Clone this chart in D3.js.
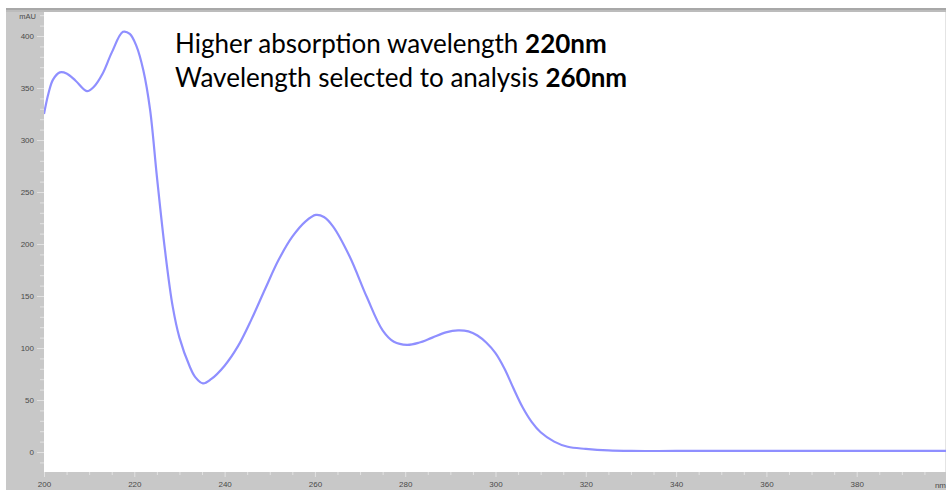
<!DOCTYPE html>
<html>
<head>
<meta charset="utf-8">
<script src="https://cdn.jsdelivr.net/npm/d3@7"></script>
<style>
  html, body { margin: 0; padding: 0; background: #fff; }
  svg { display: block; }
</style>
</head>
<body>
<svg id="chart" width="946" height="490"></svg>
<script>
// UV absorption spectrum (wavelength in nm, absorbance in mAU)
const wavelengths = [200, 201, 202, 203.5, 205, 207, 209.5, 211, 213, 215, 217.5, 219, 220.5, 222, 223.5, 225, 226.8, 228.5, 230, 232.3, 233.5, 235.2, 237, 240, 243, 246, 249, 252, 255, 258, 260.2, 262, 264, 267.7, 271.5, 275, 277.5, 280.4, 283, 286, 289, 291.7, 294, 296, 298, 300, 302, 304, 306, 308, 310, 313, 316, 320, 325, 330, 340, 360, 380, 400];
const absorbance  = [325, 345, 358, 365, 364, 357, 347, 351, 364, 384, 404, 402, 390, 367, 329, 265, 194, 140, 110, 82, 72, 66, 70, 83, 102, 128, 157, 185, 207, 222, 228, 226, 217, 188, 149, 117, 106, 103, 105, 110, 115, 117, 116, 112, 105, 95, 80, 61, 43, 29, 19, 10, 5, 3, 1.5, 1, 1, 1, 1, 1];

const yTicks = [0, 50, 100, 150, 200, 250, 300, 350, 400];
const xTicks = [200, 220, 240, 260, 280, 300, 320, 340, 360, 380];
const yUnit = "mAU";
const xUnit = "nm";
const notes = [
  { text: "Higher absorption wavelength ", bold: "220nm" },
  { text: "Wavelength selected to analysis ", bold: "260nm" }
];

const W = 946, H = 490;
const plot = { left: 44, top: 12, right: 946, bottom: 472 };

const svg = d3.select("#chart");

const x = d3.scaleLinear().domain([200, 400]).range([44, 947]);
const y = d3.scaleLinear().domain([0, 400]).range([452, 36]);

// frame: grey panels around the white plotting area
const grey = "#c8c8c8";
svg.append("rect").attr("x", 6).attr("y", 8).attr("width", W - 6).attr("height", H - 8).attr("fill", grey);
svg.append("rect").attr("x", 6).attr("y", 8).attr("width", W - 6).attr("height", 2).attr("fill", "#a8a8a8");
svg.append("rect").attr("x", 6).attr("y", 10).attr("width", W - 6).attr("height", 2).attr("fill", "#bcbcbc");
svg.append("rect")
  .attr("x", plot.left).attr("y", plot.top)
  .attr("width", plot.right - plot.left).attr("height", plot.bottom - plot.top)
  .attr("fill", "#fff");
svg.append("line").attr("x1", 945.5).attr("x2", 945.5).attr("y1", 12).attr("y2", 472)
  .attr("stroke", "#e4e4e4");

const labelFont = "Arial, 'Liberation Sans', sans-serif";
const labelColor = "#4a4a4a";

// left axis: minor ticks every 10, labels every 50
const yMinor = d3.range(-10, 421, 10);
svg.append("g").selectAll("line").data(yMinor).join("line")
  .attr("x1", d => yTicks.includes(d) ? 37 : 40).attr("x2", plot.left)
  .attr("y1", d => y(d) + 0.5).attr("y2", d => y(d) + 0.5)
  .attr("stroke", "#e2e2e2").attr("stroke-width", 1);

const yAxis = d3.axisLeft(y).tickValues(yTicks).tickSize(0).tickPadding(10);
const gy = svg.append("g").attr("transform", `translate(${plot.left},0)`).call(yAxis);
gy.select(".domain").remove();
gy.selectAll("text").attr("font-family", labelFont)
  .attr("font-size", 8).attr("fill", labelColor);

svg.append("text").attr("x", 36).attr("y", 19).attr("text-anchor", "end")
  .attr("font-family", labelFont).attr("font-size", 7.5)
  .attr("fill", labelColor).text(yUnit);

// bottom axis: minor ticks every 5 nm, labels every 20 nm
const xMinor = d3.range(200, 401, 5);
svg.append("g").selectAll("line").data(xMinor).join("line")
  .attr("x1", d => x(d) + 0.5).attr("x2", d => x(d) + 0.5)
  .attr("y1", plot.bottom).attr("y2", d => d % 20 === 0 ? plot.bottom + 5 : plot.bottom + 3)
  .attr("stroke", "#e2e2e2").attr("stroke-width", 1);

const xAxis = d3.axisBottom(x).tickValues(xTicks).tickSize(0).tickPadding(9);
const gx = svg.append("g").attr("transform", `translate(0,${plot.bottom})`).call(xAxis);
gx.select(".domain").remove();
gx.selectAll("text").attr("font-family", labelFont)
  .attr("font-size", 8).attr("fill", labelColor);

svg.append("text").attr("x", 946).attr("y", 488).attr("text-anchor", "end")
  .attr("font-family", labelFont).attr("font-size", 8)
  .attr("fill", labelColor).text(xUnit);

// spectrum trace
const pts = wavelengths.map((w, i) => [w, absorbance[i]]);
const line = d3.line()
  .x(d => x(d[0])).y(d => y(d[1]))
  .curve(d3.curveCatmullRom.alpha(0.5));

svg.append("defs").append("clipPath").attr("id", "plotClip")
  .append("rect").attr("x", plot.left).attr("y", plot.top)
  .attr("width", plot.right - plot.left).attr("height", plot.bottom - plot.top);

svg.append("path").datum(pts)
  .attr("clip-path", "url(#plotClip)")
  .attr("d", line)
  .attr("fill", "none")
  .attr("stroke", "#8f8fff")
  .attr("stroke-width", 2.2)
  .attr("stroke-linejoin", "round");

// annotation text
const noteG = svg.append("g")
  .attr("font-family", "Lato, 'Open Sans', sans-serif")
  .attr("font-size", 26).attr("fill", "#000");
notes.forEach((n, i) => {
  const t = noteG.append("text").attr("x", 175).attr("y", 53 + i * 34);
  t.append("tspan").text(n.text);
  t.append("tspan").attr("font-weight", "bold").text(n.bold);
});
</script>
</body>
</html>
